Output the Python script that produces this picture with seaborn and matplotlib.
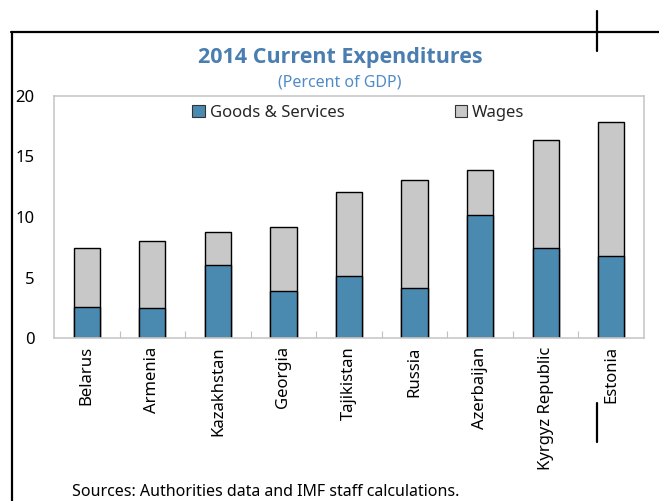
import matplotlib
matplotlib.use("Agg")
import matplotlib.pyplot as plt
from matplotlib.lines import Line2D
from matplotlib.patches import Patch
import seaborn as sns
import numpy as np
import pandas as pd

countries = ["Belarus", "Armenia", "Kazakhstan", "Georgia", "Tajikistan",
             "Russia", "Azerbaijan", "Kyrgyz Republic", "Estonia"]
goods_services = [2.6, 2.5, 6.0, 3.9, 5.1, 4.1, 10.2, 7.45, 6.75]
wages = [4.8, 5.55, 2.8, 5.25, 6.95, 8.95, 3.7, 8.9, 11.1]
y_ticks = [0, 5, 10, 15, 20]

GOODS_COLOR = "#4A8AB0"
WAGES_COLOR = "#C8C8C8"
TITLE_COLOR = "#4A7DB0"
SUB_COLOR = "#4F8BC8"
FONT = "Noto Sans"

sns.set_theme(style="white")
plt.rcParams["font.family"] = [FONT, "DejaVu Sans"]

df = pd.DataFrame({
    "country": countries,
    "goods": goods_services,
    "wages": wages,
})
df["total"] = df["goods"] + df["wages"]

W, H = 659, 501
fig = plt.figure(figsize=(W / 100, H / 100), dpi=100)
ax = fig.add_axes([54 / W, 1 - 338 / H, 590 / W, 242 / H])

# stacked bars: the full height in grey, goods & services drawn over its base
sns.barplot(data=df, x="country", y="total", color=WAGES_COLOR, width=0.4,
            edgecolor="black", linewidth=1.0, saturation=1, ax=ax)
sns.barplot(data=df, x="country", y="goods", color=GOODS_COLOR, width=0.4,
            edgecolor="black", linewidth=1.0, saturation=1, ax=ax)

ax.set_ylim(0, 20)
ax.set_xlim(-0.5, len(countries) - 0.5)
ax.set_yticks(y_ticks)
ax.set_yticklabels([str(t) for t in y_ticks], fontsize=12, color="black")
ax.set_xlabel("")
ax.set_ylabel("")
ax.set_xticks(range(len(countries)))
ax.set_xticklabels(countries, rotation=90, fontsize=12, color="black",
                   va="top", ha="center")
ax.tick_params(axis="y", length=0, pad=14)
ax.tick_params(axis="x", which="major", length=0, pad=6)
# small inward marks on the category boundaries
ax.set_xticks(np.arange(0.5, len(countries) - 0.5, 1), minor=True)
ax.tick_params(axis="x", which="minor", direction="in", length=5,
               width=0.8, color="#BFBFBF", bottom=True)
for s in ax.spines.values():
    s.set_visible(True)
    s.set_color("#C8C8C8")
    s.set_linewidth(1.2)
ax.grid(False)

handles = [Patch(facecolor=GOODS_COLOR, edgecolor="#333333", linewidth=0.8),
           Patch(facecolor=WAGES_COLOR, edgecolor="#333333", linewidth=0.8)]
ax.legend(handles, ["Goods & Services", "Wages"], ncol=2, frameon=False,
          loc="center", bbox_to_anchor=(0.516, 0.93), fontsize=12,
          handlelength=0.75, handleheight=0.75, handletextpad=0.3,
          columnspacing=6.6)

fig.text(340 / W, 1 - 58 / H, "2014 Current Expenditures", ha="center",
         va="center", fontsize=15.5, fontweight="bold", color=TITLE_COLOR,
         family=["Open Sans", "DejaVu Sans"])
fig.text(340 / W, 1 - 83 / H, "(Percent of GDP)", ha="center", va="center",
         fontsize=11.5, color=SUB_COLOR)
fig.text(72 / W, 1 - 492 / H, "Sources: Authorities data and IMF staff calculations.",
         ha="left", va="center", fontsize=11.5, color="black")

# page frame and crop marks
def fig_line(x0, y0, x1, y1, lw=1.6):
    fig.add_artist(Line2D([x0 / W, x1 / W], [1 - y0 / H, 1 - y1 / H],
                          transform=fig.transFigure, color="black", lw=lw))

fig_line(12, 32, 12, 501)
fig_line(11, 32, 659, 32)
fig_line(597, 11, 597, 51)
fig_line(597, 403, 597, 442)

fig.savefig("out.png", dpi=100)
